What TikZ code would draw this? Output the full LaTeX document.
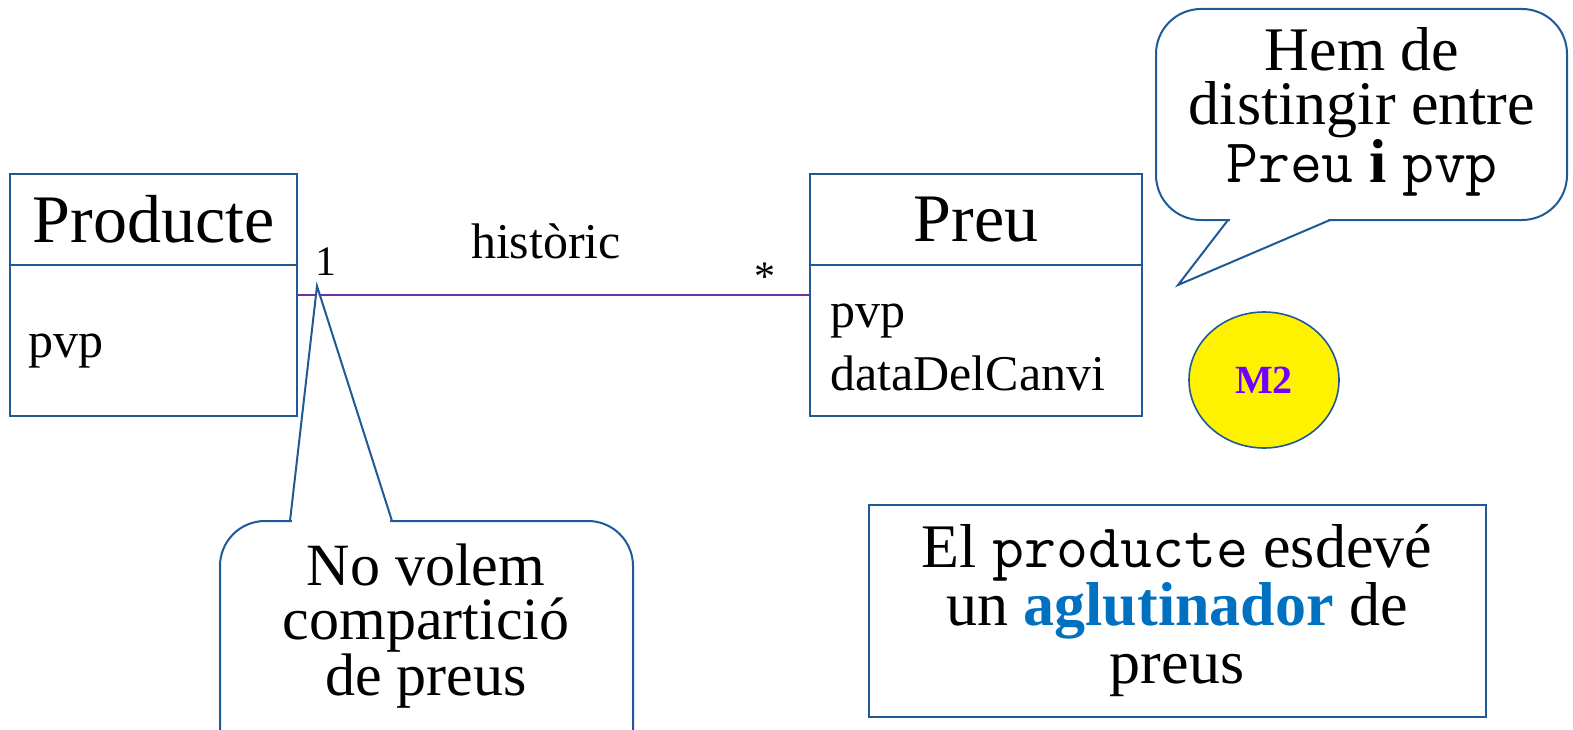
\documentclass[tikz,border=0pt]{standalone}
\usepackage{fontspec}
\setmainfont{Liberation Serif}
\usetikzlibrary{shapes.geometric}

\definecolor{umlblue}{HTML}{1F5A96}
\definecolor{assocpurple}{HTML}{7030A0}
\definecolor{markviolet}{HTML}{7000FF}
\definecolor{keyblue}{HTML}{0070C0}

\begin{document}
\begin{tikzpicture}[x=1pt,y=-1pt,
  box/.style={draw=umlblue,line width=2.2pt,inner sep=0pt,outer sep=0pt,anchor=north west},
  classname/.style={box,font=\fontsize{68}{70}\selectfont},
  attr/.style={anchor=base west,inner sep=0pt,font=\fontsize{50}{52}\selectfont},
  mult/.style={anchor=base,inner sep=0pt,font=\fontsize{42}{44}\selectfont},
  callout/.style={draw=umlblue,line width=2pt,fill=white},
  notetext/.style={align=center,inner sep=0pt,font=\fontsize{60}{54}\selectfont}]
  \clip (0,0) rectangle (1573,730); % mida de la imatge

  % classe Producte
  \node[classname,minimum width=287pt,minimum height=91pt] (producteH) at (10,174) {Producte};
  \node[box,minimum width=287pt,minimum height=151pt] (producteA) at (producteH.south west) {};
  \node[attr] (productePvp) at (28,357) {pvp};

  % classe Preu
  \node[classname,minimum width=332pt,minimum height=91pt] (preuH) at (810,174) {Preu};
  \node[box,minimum width=332pt,minimum height=151pt] (preuA) at (preuH.south west) {};
  \node[attr] (preuPvp) at (830,327) {pvp};
  \node[attr] (preuData) at (830,390) {dataDelCanvi};

  % associacio
  \draw[assocpurple,line width=1.8pt] (producteA.east |- 0,295) -- (preuA.west |- 0,295);
  \node[mult] (one) at (326,275) {1};
  \node[mult] (many) at (765,290) {*};
  \node[attr,anchor=base] (historic) at (546,258) {històric};

  % nota de sota
  \draw[callout,rounded corners=45pt] (220,521) rectangle (633,790);
  \fill[white] (292,524) -- (292,520) -- (317,290) -- (390,520) -- (390,524) -- cycle; % obre la vora per a la punta
  \draw[umlblue,line width=2pt,line join=miter] (290,521) -- (317,286) -- (392,521);
  \node[notetext] (novolem) at (426,626) {No volem\\compartició\\de preus};

  % nota de dalt
  \draw[callout,rounded corners=45pt] (1156,9) rectangle (1567,220);
  \fill[white] (1230,217) -- (1230,221) -- (1182,281) -- (1328,221) -- (1328,217) -- cycle;
  \draw[umlblue,line width=2pt,line join=miter] (1228,220) -- (1178,285) -- (1330,220);
  \node[notetext,font=\fontsize{62}{54}\selectfont] (distingir) at (1362,112) {Hem de\\distingir entre\\\texttt{Preu} \textbf{i} \texttt{pvp}};

  % marca M2
  \node[ellipse,draw=umlblue,line width=1.6pt,fill=yellow,minimum width=150pt,minimum height=136pt,
        text=markviolet,font=\fontsize{40}{42}\selectfont\bfseries] (mtwo) at (1264,380) {M2};

  % quadre final
  \node[draw=umlblue,line width=2pt,minimum width=617pt,minimum height=212pt,align=center,
        font=\fontsize{62}{58}\selectfont] (aglut) at (1177,611)
        {El \texttt{producte} esdevé\\un \textbf{\color{keyblue}aglutinador} de\\preus};
\end{tikzpicture}
\end{document}
